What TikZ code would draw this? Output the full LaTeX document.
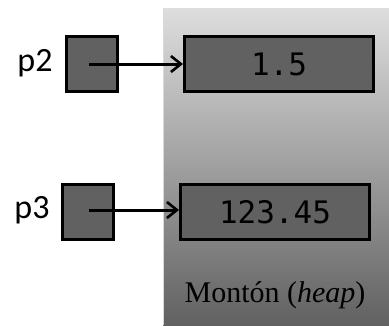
\documentclass[tikz,border=0pt]{standalone}
\usetikzlibrary{arrows.meta}
\usepackage{fontspec}
\setmainfont{Liberation Serif}
\newfontfamily\labfont{Carlito}
\newfontfamily\numfont{DejaVu Sans Mono}
\begin{document}
\begin{tikzpicture}[x=1pt,y=-1pt,
  cell/.style={draw=black,line width=3pt,fill=black!62,inner sep=0pt,anchor=north west},
  link/.style={line width=3pt,-{Straight Barb[length=10pt,width=16pt,line width=2.6pt]}},
  lab/.style={font=\labfont\fontsize{34}{38}\selectfont,inner sep=0pt},
  num/.style={font=\numfont\fontsize{31}{35}\selectfont,inner sep=0pt}]
\useasboundingbox (0,0) rectangle (389,325);
\shade[top color=black!13,bottom color=black!62] (163,8) rectangle (389,325);
\draw[white!85!black,line width=1pt] (163.5,8) -- (163.5,325);
\node[cell,minimum width=51pt,minimum height=55pt] (b2) at (65,35) {};
\node[cell,minimum width=51pt,minimum height=55pt] (b3) at (61,183) {};
\node[cell,minimum width=189pt,minimum height=55pt] (h2) at (183,35) {};
\node[cell,minimum width=189pt,minimum height=55pt] (h3) at (179,183) {};
\node[num] at (h2.center) {1.5};
\node[num] at (h3.center) {123.45};
\node[lab] (l2) at (35,63) {p2};
\node[lab] (l3) at (32,210) {p3};
\coordinate (s2) at (89,64);
\coordinate (s3) at (89,210);
\draw[link] (s2) -- (h2.west|-s2);
\draw[link] (s3) -- (h3.west|-s3);
\node[font=\fontsize{30}{34}\selectfont,inner sep=0pt] (t) at (275,295) {Montón (\textit{heap})};
\end{tikzpicture}
\end{document}
